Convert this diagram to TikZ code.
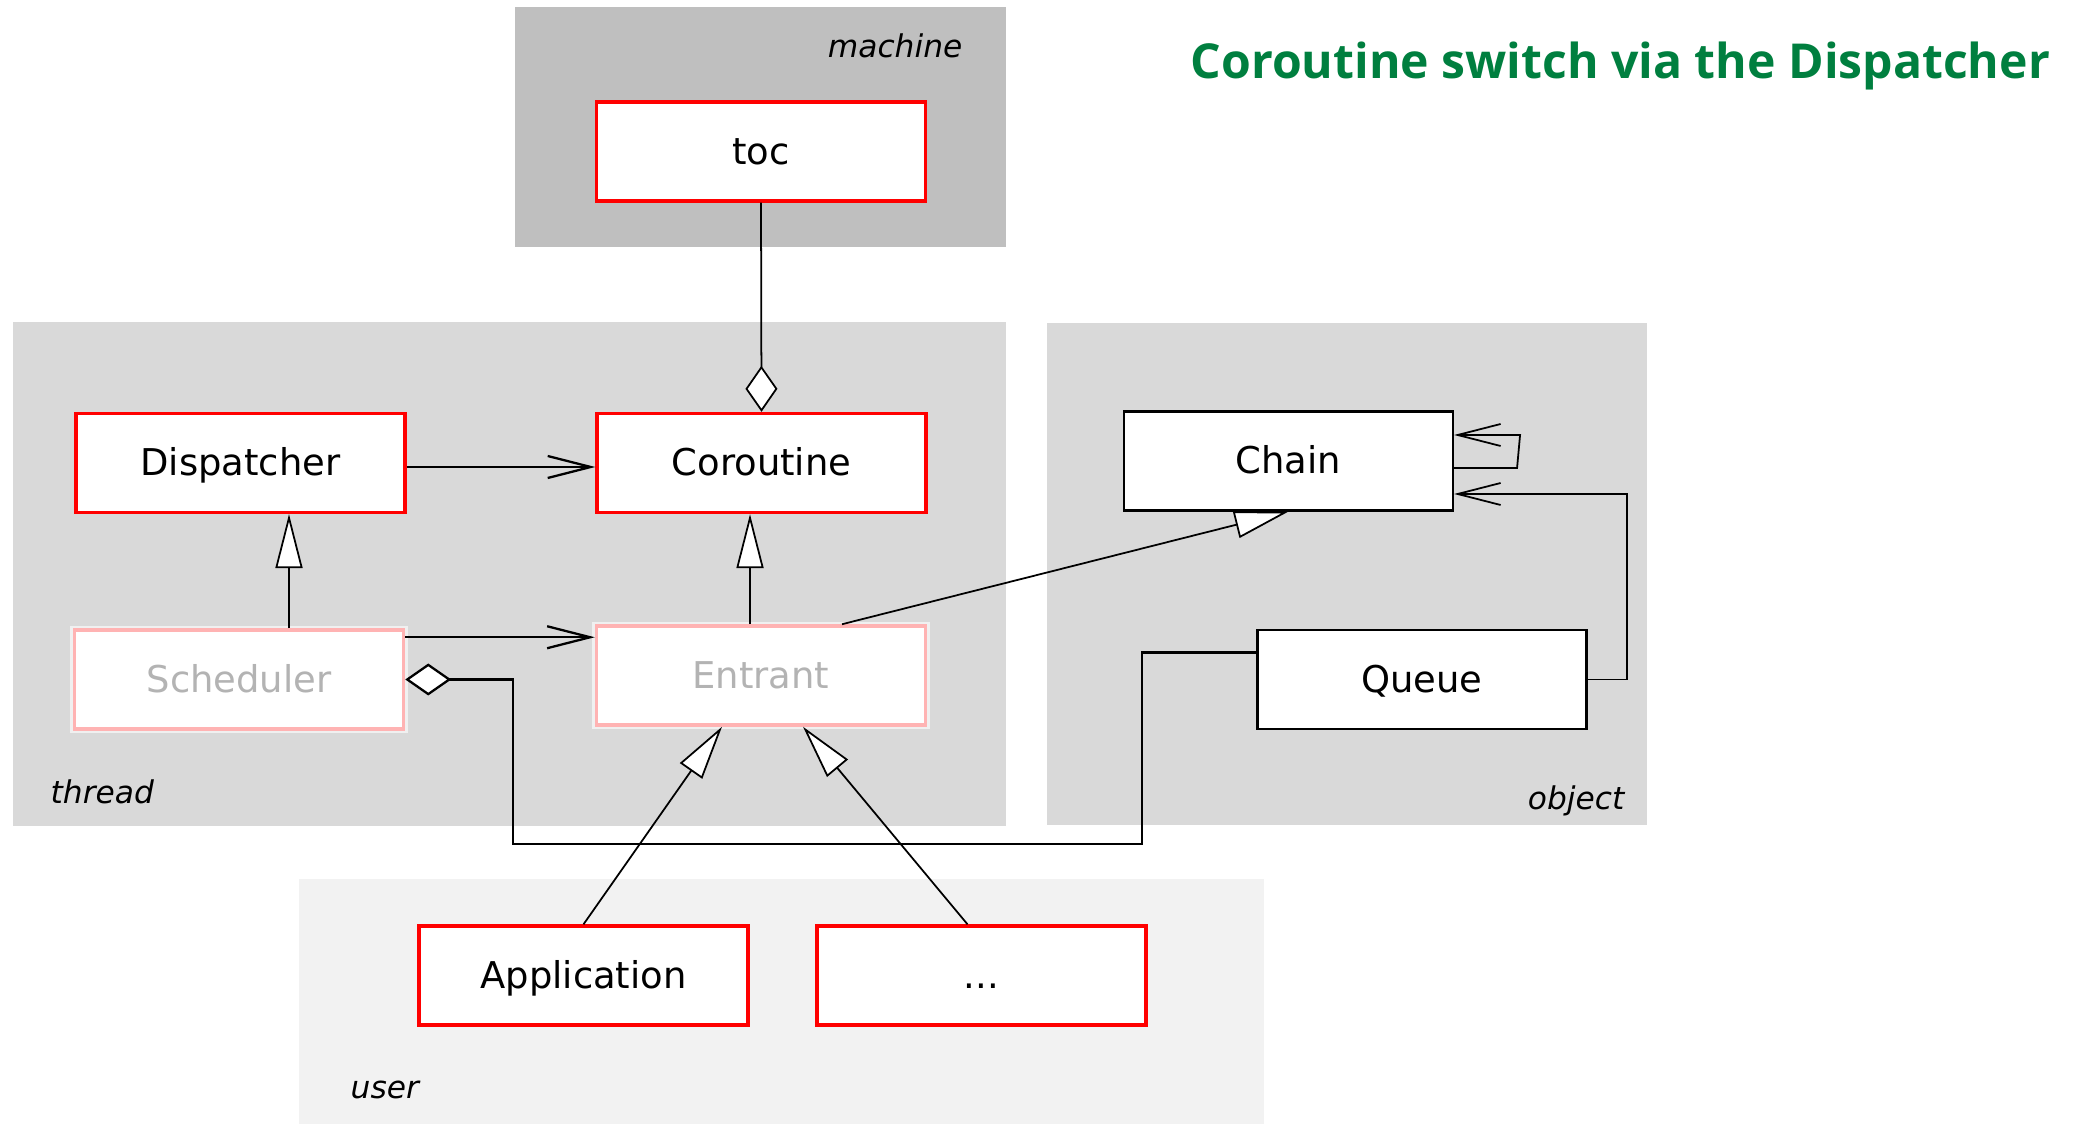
\documentclass[tikz,border=0pt]{standalone}
\usepackage{fontspec}
\setmainfont{DejaVu Sans}
\newfontfamily\titlefont{Open Sans}
\usetikzlibrary{arrows.meta}
\definecolor{machinegray}{RGB}{191,191,191}
\definecolor{threadgray}{RGB}{217,217,217}
\definecolor{usergray}{RGB}{242,242,242}
\definecolor{titlegreen}{RGB}{0,127,63}
\definecolor{fadedred}{RGB}{255,179,179}
\definecolor{fadedtext}{RGB}{179,179,179}
\definecolor{halo}{RGB}{240,240,240}
\begin{document}
\begin{tikzpicture}[
    font=\fontsize{10.5}{12}\selectfont,
    cls/.style={draw, fill=white, line width=0.6pt, minimum width=3.29cm, minimum height=0.99cm, inner sep=0pt, text height=0.88em, text depth=0.15em},
    hot/.style={cls, draw=red, line width=0.95pt},
    faded/.style={cls, draw=fadedred, line width=1pt, text=fadedtext, preaction={draw=halo, line width=2.4pt}},
    zone/.style={inner sep=0pt, font=\fontsize{8.9}{10}\selectfont\itshape},
    assoc/.style={line width=0.65pt, -{Straight Barb[length=4.3mm,width=2.2mm]}},
    inherit/.style={line width=0.5pt, -{Triangle[length=5.4mm,width=2.7mm,fill=white]}},
    aggr/.style={line width=0.5pt, -{Diamond[length=4.6mm,width=3.2mm,fill=white]}}
  ]
     \useasboundingbox (0,0) rectangle (20.79,-11.24);

     \fill [machinegray] (5.15,-0.07) rectangle (10.06,-2.47);
     \fill [threadgray] (0.13,-3.22) rectangle (10.06,-8.26);
     \fill [threadgray] (10.47,-3.23) rectangle (16.47,-8.25);
     \fill [usergray] (2.99,-8.79) rectangle (12.64,-11.24);

     \node [zone, anchor=base east] at (9.63,-0.58) (machine) {machine};
     \node [zone, anchor=base west] at (0.50,-8.03) (thread) {thread};
     \node [zone, anchor=base east] at (16.25,-8.09) (object) {object};
     \node [zone, anchor=base west] at (3.50,-10.98) (user) {user};
     \node [anchor=base west, inner sep=0pt, text=titlegreen, font=\titlefont\bfseries\fontsize{13.7}{16}\selectfont] at (11.90,-0.79) (title) {Coroutine switch via the Dispatcher};

     \node [hot] at (7.61,-1.515) (toc) {toc};
     \node [hot] at (2.405,-4.63) (dispatcher) {Dispatcher};
     \node [hot] at (7.615,-4.63) (coroutine) {Coroutine};
     \node [faded] at (2.39,-6.795) (scheduler) {Scheduler};
     \node [faded] at (7.61,-6.755) (entrant) {Entrant};
     \node [cls] at (12.885,-4.61) (chain) {Chain};
     \node [cls] at (14.22,-6.795) (queue) {Queue};
     \node [hot] at (5.835,-9.755) (application) {Application};
     \node [hot] at (9.815,-9.755) (more) {...};

     \coordinate (busR) at (11.42,-8.44);
     \coordinate (busL) at (5.13,-8.44);
     \coordinate (qcorner) at (16.27,-4.94);

     \draw [aggr] (toc.south) -- (coroutine.north);
     \draw [assoc] ([yshift=-0.4mm]dispatcher.east) -- ([yshift=-0.4mm]coroutine.west);
     \draw [assoc] ([yshift=-0.9mm]scheduler.north east) -- ([yshift=-0.9mm]scheduler.north east -| entrant.west);
     \draw [inherit] ([xshift=5mm]scheduler.north) -- ([xshift=5mm]scheduler.north |- dispatcher.south);
     \draw [inherit] ([xshift=-1.1mm]entrant.north) -- ([xshift=-1.1mm]entrant.north |- coroutine.south);
     \draw [inherit] ([xshift=8.1mm]entrant.north) -- (chain.south);
     \draw [inherit] (application.north) -- ([xshift=-3.9mm]entrant.south);
     \draw [inherit] ([xshift=-1.4mm]more.north) -- ([xshift=4.2mm]entrant.south);
     \draw [aggr, line width=0.65pt] ([yshift=2.7mm]queue.west) -| (busR) -- (busL) |- (scheduler.east);
     \draw [assoc, line width=0.5pt] (queue.east) -| (qcorner) -- (qcorner -| chain.east);
     \draw [assoc, line width=0.5pt] ([yshift=-0.7mm]chain.east) -- ++(0.63,0) -- ++(0.03,0.33) -- ([yshift=2.6mm]chain.east);
\end{tikzpicture}
\end{document}
